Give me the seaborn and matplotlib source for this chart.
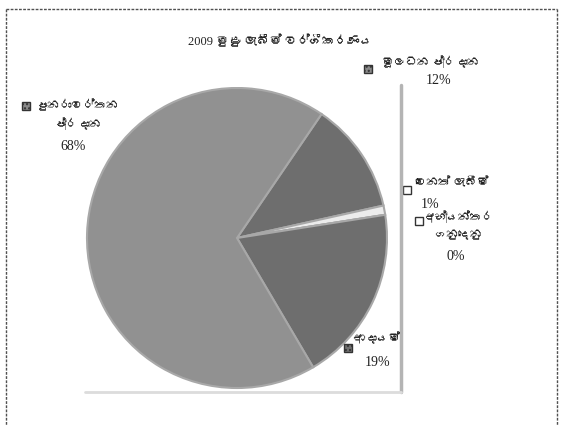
import matplotlib
matplotlib.use("Agg")
import matplotlib.pyplot as plt
import matplotlib.font_manager as fm
from matplotlib.ft2font import FT2Font
from matplotlib.patches import Rectangle
from matplotlib.lines import Line2D
import seaborn as sns

# data (clockwise from the top-right boundary)
title = "2009 මුළු ලැබීම් වර්ගීකරණය"
names = ["මූලධන\u00a0ප්‍රදාන", "වෙනත් ලැබීම්", "අභ්‍යන්තර\nගනුදෙනු", "ආදායම්", "පුනරාවර්තන\nප්‍රදාන"]
percents = [12, 1, 0, 19, 68]

# look
slice_colors = ["#6e6e6e", "#ececec", "#ececec", "#6e6e6e", "#919191"]
marker_colors = ["#8a8a8a", "white", "white", "#707070", "#8a8a8a"]
marker_hatch = ["....", None, None, "....", "...."]
# pixel anchors: name block (center x, top y), percent (center x, center y), marker (x, y)
name_pos = [(431, 56), (452, 178), (459, 211), (377, 333), (78, 100)]
pct_pos = [(439, 81), (430, 204), (456, 257), (378, 363), (73, 146)]
marker_pos = [(364, 65), (403, 186), (415, 217), (344, 344), (22, 102)]

W, H = 564, 425


def find_sinhala():
    for f in fm.fontManager.ttflist:
        try:
            if 0x0DB8 in FT2Font(f.fname).get_charmap():
                return f.name
        except Exception:
            pass
    return None


sns.set_theme(style="white")
fams = ["Liberation Serif"]
sin = find_sinhala()
if sin:
    fams.append(sin)
fams.append("DejaVu Sans")
plt.rcParams["font.family"] = fams

fig = plt.figure(figsize=(W / 100, H / 100), dpi=100)
fig.patch.set_facecolor("white")

# pie: center (237, 238), radius 150 px
cx, cy, r = 237, 238, 150
ax = fig.add_axes([(cx - r) / W, 1 - (cy + r) / H, 2 * r / W, 2 * r / H])
ax.pie(percents, colors=slice_colors, startangle=55.7, counterclock=False,
       wedgeprops=dict(edgecolor="#a8a8a8", linewidth=1.5))
ax.set_xlim(-1, 1)
ax.set_ylim(-1, 1)
ax.set_aspect("equal")
ax.axis("off")

# box of the pasted pie picture
fig.add_artist(Line2D([401 / W, 401 / W], [1 - 85 / H, 1 - 392 / H],
                      color="#b4b4b4", lw=2.5, transform=fig.transFigure))
fig.add_artist(Line2D([85 / W, 401 / W], [1 - 392 / H, 1 - 392 / H],
                      color="#dcdcdc", lw=2, transform=fig.transFigure))

# outer dotted frame
for xs, ys in [([6, 6], [9, 425]), ([6, 557], [9, 9]), ([557, 557], [9, 425])]:
    fig.add_artist(Line2D([x / W for x in xs], [1 - y / H for y in ys],
                          color="#505050", lw=1, ls=(0, (2, 1)),
                          transform=fig.transFigure))

fig.text(280 / W, 1 - 42 / H, title, ha="center", va="center", fontsize=9,
         color="#222222")

for i, name in enumerate(names):
    nx, ny = name_pos[i]
    px, py = pct_pos[i]
    mx, my = marker_pos[i]
    fig.text(nx / W, 1 - ny / H, name, ha="center", va="top", fontsize=8.5,
             color="#222222", linespacing=1.6, multialignment="center")
    fig.text(px / W, 1 - py / H, f"{percents[i]}%", ha="center", va="center",
             fontsize=10, color="#222222")
    fig.add_artist(Rectangle((mx / W, 1 - (my + 8) / H), 8 / W, 8 / H,
                             facecolor=marker_colors[i], edgecolor="#333333",
                             lw=1, hatch=marker_hatch[i],
                             transform=fig.transFigure))

fig.savefig("out.png", dpi=100)
